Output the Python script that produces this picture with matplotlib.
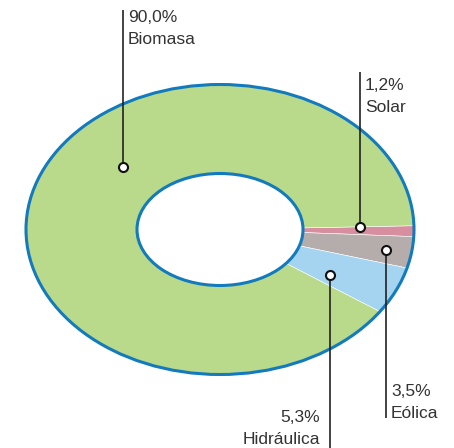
import numpy as np
import matplotlib
matplotlib.use("Agg")
import matplotlib.pyplot as plt
from matplotlib.patches import Polygon, Ellipse

# data, clockwise from the right-hand side
labels = ["Solar", "Eólica", "Hidráulica", "Biomasa"]
shares = [1.2, 3.5, 5.3, 90.0]
pct_text = ["1,2%", "3,5%", "5,3%", "90,0%"]
colors = ["#d78e9e", "#b4adab", "#a5d4f1", "#b9d98b"]

EDGE = "#137bbd"
CX, CY = 220, 229.5          # ellipse centre (pixels)
RX, RY = 194, 145            # outer radii
IRX, IRY = 83, 56            # hole radii
START = 1.5                  # degrees above horizontal

plt.rcParams["font.family"] = ["Liberation Sans", "DejaVu Sans"]

fig = plt.figure(figsize=(4.54, 4.48), dpi=100)
ax = fig.add_axes([0, 0, 1, 1])
ax.set_xlim(0, 454)
ax.set_ylim(448, 0)
ax.axis("off")


def pt(theta_deg, rx, ry):
    t = np.radians(theta_deg)
    return CX + rx * np.cos(t), CY - ry * np.sin(t)


# sectors
bounds = START - np.concatenate([[0], np.cumsum(shares)]) * 3.6
for a0, a1, c in zip(bounds[:-1], bounds[1:], colors):
    th = np.linspace(a0, a1, 200)
    xs, ys = pt(th, RX, RY)
    verts = np.column_stack([np.r_[CX, xs], np.r_[CY, ys]])
    ax.add_patch(Polygon(verts, closed=True, facecolor=c, edgecolor="white",
                         linewidth=0.4, zorder=1))

# outline and hole
ax.add_patch(Ellipse((CX, CY), 2 * RX, 2 * RY, facecolor="none",
                     edgecolor=EDGE, linewidth=2.2, zorder=3))
ax.add_patch(Ellipse((CX, CY), 2 * IRX, 2 * IRY, facecolor="white",
                     edgecolor=EDGE, linewidth=2.2, zorder=3))

# leader lines: marker point, line end, text anchor
leaders = {
    "Biomasa": ((123, 167), 10, (128, 18), "left"),
    "Solar": ((360, 227), 72, (365, 85), "left"),
    "Eólica": ((386, 250), 418, (391, 392), "left"),
    "Hidráulica": ((330, 275), 448, (320, 417), "right"),
}
for lab, pc in zip(labels, pct_text):
    (mx, my), yend, (tx, ty), ha = leaders[lab]
    ax.plot([mx, mx], [my, yend], color="#222222", lw=1.2, zorder=4,
            solid_capstyle="butt")
    ax.plot(mx, my, "o", ms=6.5, mfc="white", mec="#111111", mew=1.5, zorder=5)
    ax.text(tx, ty, pc, ha=ha, va="center", fontsize=12.5, color="#333333")
    ax.text(tx, ty + 22, lab, ha=ha, va="center", fontsize=12.5, color="#333333")

fig.savefig("out.png", dpi=100)
